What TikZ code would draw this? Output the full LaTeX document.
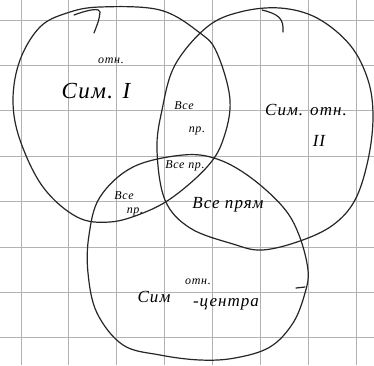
\documentclass[tikz,border=0pt]{standalone}
\usepackage{fontspec}
\setmainfont{Liberation Serif}
\newfontfamily\hand[LetterSpace=6]{Liberation Serif}
\begin{document}
\begin{tikzpicture}[x=1pt,y=-1pt,
  gridline/.style={draw=black!30,line width=0.9pt},
  setline/.style={draw=black!85,line width=1.2pt,line cap=round,line join=round},
  big/.style={font=\hand\itshape\fontsize{23}{23}\selectfont,inner sep=0pt},
  mid/.style={font=\hand\itshape\fontsize{17}{17}\selectfont,inner sep=0pt},
  small/.style={font=\hand\itshape\fontsize{12}{12}\selectfont,inner sep=0pt}]
\useasboundingbox[fill=white] (0,0) rectangle (374,365);
% grid paper
\foreach \i in {0,...,7}{
  \draw[gridline] ({21+47.9*\i},0) -- ({21+47.9*\i},365);
  \draw[gridline] (0,{20+45.4*\i}) -- (374,{20+45.4*\i});
}
% set A (top-left)
\draw[setline] plot[smooth cycle,tension=0.6] coordinates {
  (40,27) (67,13) (100,7) (160,10) (200,33) (217,53) (230,100) (223,140)
  (207,167) (173,197) (143,213) (110,222) (77,217) (43,187) (20,140) (13,100) (20,60)};
\draw[setline] (74,15) .. controls (90,9) and (100,8) .. (100,12) .. controls (99,20) .. (94,33);
% set B (top-right)
\draw[setline] plot[smooth cycle,tension=0.6] coordinates {
  (207,27) (240,12) (280,8) (317,18) (350,45) (368,80) (373,117) (368,160)
  (355,200) (333,225) (300,241) (262,250) (233,244) (190,228) (165,200)
  (157,150) (162,110) (175,65)};
\draw[setline] (262,10) .. controls (278,14) and (284,18) .. (283,32);
% set C (bottom)
\draw[setline] plot[smooth cycle,tension=0.6] coordinates {
  (100,197) (133,167) (183,155) (217,159) (250,177) (283,207) (299,235)
  (308,270) (305,293) (293,323) (270,347) (235,358) (200,360) (160,355)
  (123,345) (97,313) (88,273) (89,235)};
\draw[setline] (296,288) -- (305,287);
% labels
\node[small] (a1) at (111,61) {отн.};
\node[big] (a2) at (96,91) {Сим. I};
\node[mid] (b1) at (306,110) {Сим. отн.};
\node[mid] (b2) at (319,141) {II};
\node[small] (ab1) at (184,106) {Все};
\node[small] (ab2) at (197,131) {пр.};
\node[small] (abc) at (185,166) {Все пр.};
\node[small] (ac1) at (124,196) {Все};
\node[small] (ac2) at (135,212) {пр.};
\node[mid] (bc) at (228,205) {Все прям};
\node[mid] (c1) at (154,297) {Сим};
\node[small] (c2) at (198,282) {отн.};
\node[mid] (c3) at (226,304) {-центра};
\end{tikzpicture}
\end{document}
